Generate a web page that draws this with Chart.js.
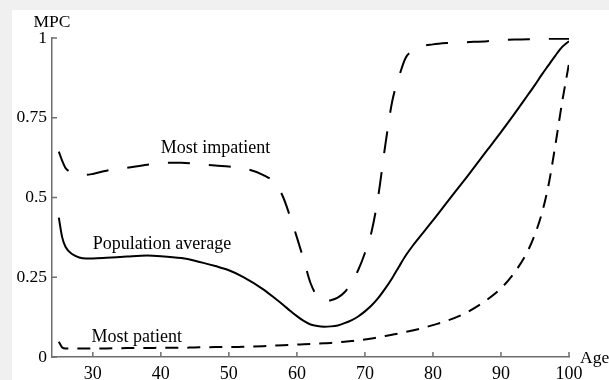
<!DOCTYPE html>
<html>
<head>
<meta charset="utf-8">
<script src="https://cdn.jsdelivr.net/npm/chart.js@4.4.0/dist/chart.umd.min.js"></script>
<style>
    html, body { margin: 0; padding: 0; background: #f0f0f0; }
    canvas { display: block; }
</style>
</head>
<body>
<canvas id="myChart" width="609" height="380"></canvas>
<script>
// ages (x) shared by the three curves
var ages = [25, 25.5, 26, 27, 28, 29, 30, 32, 35, 38, 40, 43, 45, 48, 50, 52, 55, 57, 58, 59,
    60, 61, 62, 63, 64, 65, 66, 67, 68, 69, 70, 71, 72, 73, 74, 75, 76, 77, 78, 80,
    82, 85, 88, 90, 92, 94, 95, 96, 97, 98, 99, 100];

var populationAverage = [0.437, 0.375, 0.345, 0.322, 0.312, 0.309, 0.309, 0.311, 0.315, 0.318, 0.316, 0.310, 0.302, 0.285, 0.272, 0.252, 0.213, 0.180, 0.163, 0.145,
    0.128, 0.113, 0.102, 0.097, 0.095, 0.096, 0.099, 0.106, 0.115, 0.127, 0.143, 0.162, 0.186, 0.215, 0.247, 0.283, 0.318, 0.348, 0.375, 0.428,
    0.483, 0.565, 0.649, 0.705, 0.763, 0.823, 0.853, 0.885, 0.915, 0.945, 0.972, 0.990];

var mostImpatient = [0.644, 0.615, 0.592, 0.578, 0.572, 0.571, 0.574, 0.584, 0.593, 0.603, 0.608, 0.609, 0.606, 0.600, 0.597, 0.592, 0.571, 0.540, 0.500, 0.440,
    0.375, 0.305, 0.232, 0.190, 0.176, 0.178, 0.186, 0.203, 0.232, 0.272, 0.326, 0.395, 0.510, 0.665, 0.800, 0.878, 0.938, 0.960, 0.972, 0.980,
    0.984, 0.987, 0.990, 0.993, 0.995, 0.996, 0.997, 0.997, 0.998, 0.998, 0.998, 0.998];

var mostPatient = [0.048, 0.030, 0.027, 0.027, 0.027, 0.027, 0.027, 0.027, 0.028, 0.028, 0.029, 0.029, 0.030, 0.031, 0.031, 0.032, 0.034, 0.036, 0.037, 0.038,
    0.039, 0.040, 0.041, 0.042, 0.043, 0.044, 0.046, 0.048, 0.050, 0.053, 0.055, 0.058, 0.062, 0.066, 0.070, 0.074, 0.079, 0.083, 0.088, 0.100,
    0.113, 0.140, 0.180, 0.215, 0.265, 0.335, 0.385, 0.450, 0.540, 0.665, 0.800, 0.920];

var xTicks = [30, 40, 50, 60, 70, 80, 90, 100];
var yTicks = [0, 0.25, 0.5, 0.75, 1];
var yTickLabels = ['0', '0.25', '0.5', '0.75', '1'];

var FONT = '"Liberation Serif", "DejaVu Serif", serif';
var axisColor = '#6f6f6f';

function points(values) {
    return ages.map(function (a, i) { return { x: a, y: values[i] }; });
}

// text placed next to each curve (in data units)
var curveNotes = [
    { text: 'Most impatient', age: 40, mpc: 0.639 },
    { text: 'Population average', age: 30, mpc: 0.339 },
    { text: 'Most patient', age: 29.8, mpc: 0.047 }
];

var decor = {
    id: 'decor',
    beforeDraw: function (chart) {
        var c = chart.ctx;
        c.save();
        c.fillStyle = '#f0f0f0';
        c.fillRect(0, 0, chart.width, chart.height);
        c.fillStyle = '#ffffff';
        c.fillRect(12, 10, chart.width - 12, chart.height - 10);
        c.restore();
    },
    afterDraw: function (chart) {
        var c = chart.ctx, x = chart.scales.x, y = chart.scales.y, a = chart.chartArea;
        c.save();
        // inward ticks
        c.strokeStyle = axisColor;
        c.lineWidth = 1.5;
        c.beginPath();
        xTicks.forEach(function (v) {
            var px = x.getPixelForValue(v);
            c.moveTo(px, a.bottom);
            c.lineTo(px, a.bottom - 5);
        });
        yTicks.forEach(function (v) {
            var py = y.getPixelForValue(v);
            c.moveTo(a.left, py);
            c.lineTo(a.left + 5, py);
        });
        c.stroke();

        c.fillStyle = '#000';
        c.font = '17.5px ' + FONT;
        c.textBaseline = 'alphabetic';
        c.textAlign = 'center';
        c.fillText('MPC', a.left, a.top - 11);
        c.textAlign = 'left';
        c.fillText('Age', a.right + 11, a.bottom + 6);
        c.font = '18px ' + FONT;
        curveNotes.forEach(function (n) {
            c.fillText(n.text, x.getPixelForValue(n.age), y.getPixelForValue(n.mpc));
        });
        c.restore();
    }
};

var ctx = document.getElementById('myChart').getContext('2d');
var myChart = new Chart(ctx, {
    type: 'line',
    data: {
        datasets: [{
            label: 'Population average',
            data: points(populationAverage),
            borderColor: '#000',
            borderWidth: 2,
            pointRadius: 0,
            cubicInterpolationMode: 'monotone'
        }, {
            label: 'Most impatient',
            data: points(mostImpatient),
            borderColor: '#000',
            borderWidth: 2,
            borderDash: [22, 19],
            pointRadius: 0,
            cubicInterpolationMode: 'monotone'
        }, {
            label: 'Most patient',
            data: points(mostPatient),
            borderColor: '#000',
            borderWidth: 2,
            borderDash: [13, 9],
            pointRadius: 0,
            cubicInterpolationMode: 'monotone'
        }]
    },
    options: {
        responsive: false,
        animation: false,
        devicePixelRatio: 1,
        layout: { padding: { top: 38, right: 40, left: 0, bottom: 0 } },
        plugins: {
            legend: { display: false },
            tooltip: { enabled: false }
        },
        scales: {
            x: {
                type: 'linear',
                min: 24,
                max: 100,
                afterBuildTicks: function (s) {
                    s.ticks = xTicks.map(function (v) { return { value: v }; });
                },
                afterFit: function (s) { s.height = 23; },
                grid: { drawOnChartArea: false, drawTicks: false },
                border: { display: true, color: axisColor, width: 1.5 },
                ticks: {
                    color: '#000',
                    padding: 6,
                    maxRotation: 0,
                    font: { family: FONT, size: 18 }
                }
            },
            y: {
                type: 'linear',
                min: 0,
                max: 1,
                afterBuildTicks: function (s) {
                    s.ticks = yTicks.map(function (v) { return { value: v }; });
                },
                afterFit: function (s) { s.width = 52; },
                grid: { drawOnChartArea: false, drawTicks: false },
                border: { display: true, color: axisColor, width: 1.5 },
                ticks: {
                    color: '#000',
                    padding: 5,
                    font: { family: FONT, size: 17.5 },
                    callback: function (v) {
                        var i = yTicks.indexOf(v);
                        return i >= 0 ? yTickLabels[i] : '';
                    }
                }
            }
        }
    },
    plugins: [decor]
});
</script>
</body>
</html>
